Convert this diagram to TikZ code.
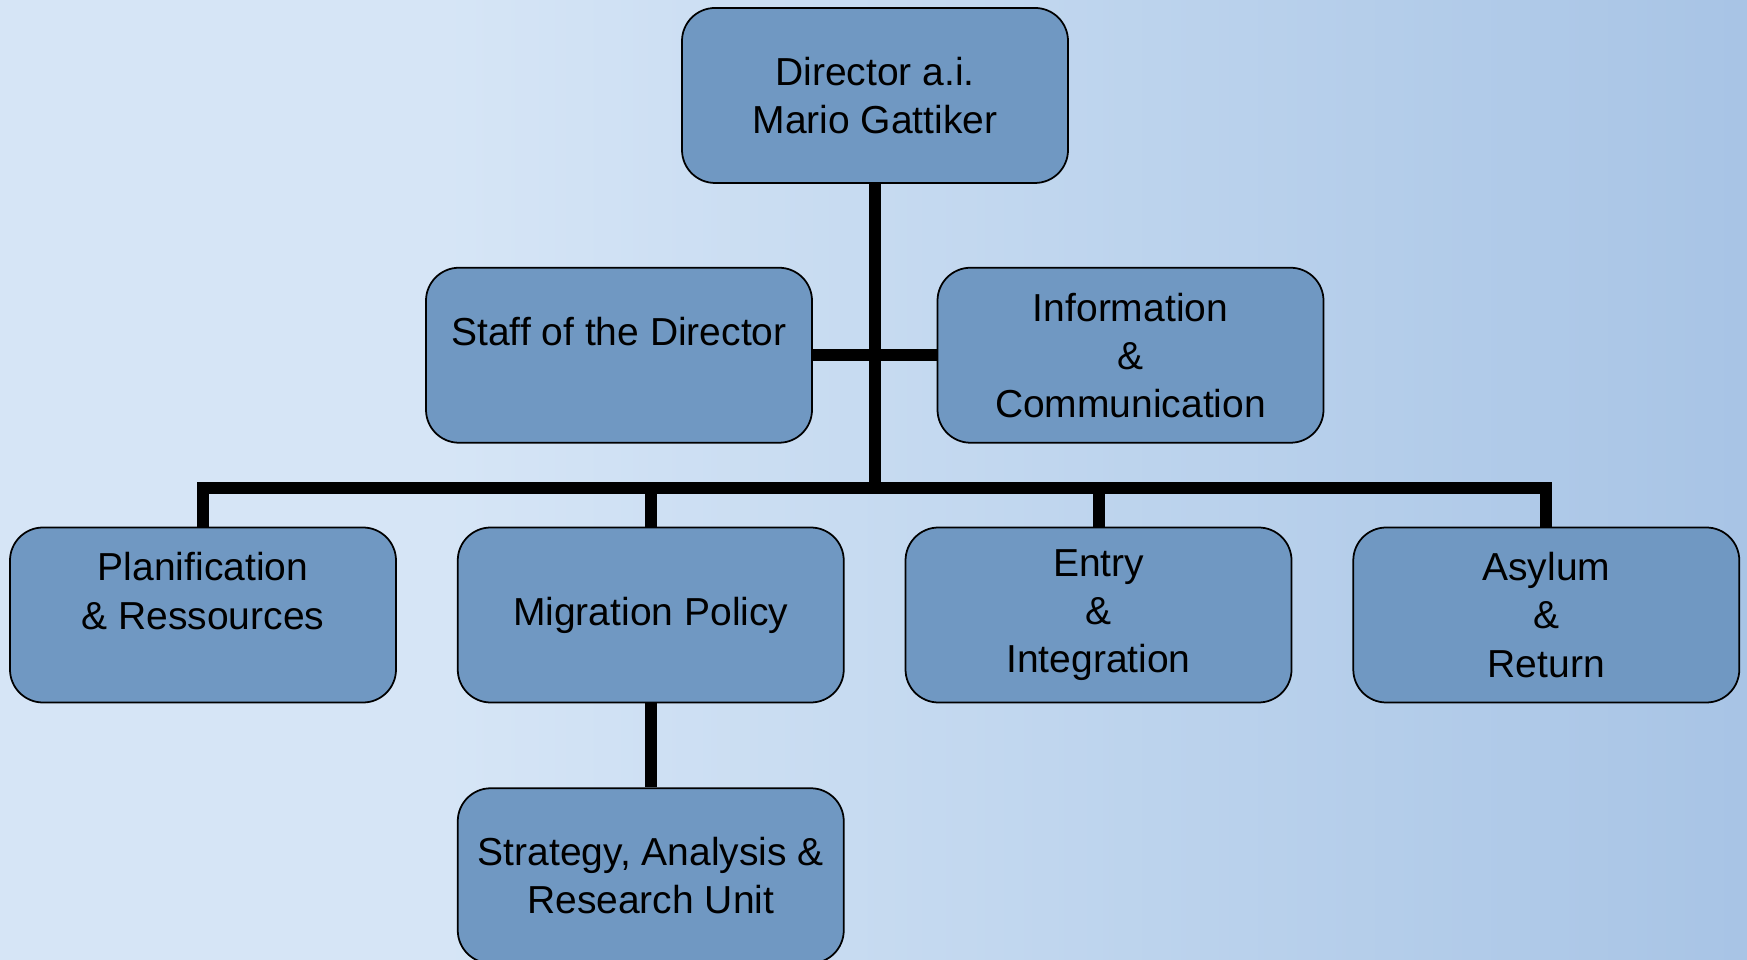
\documentclass[tikz,border=0pt]{standalone}
\usepackage{fontspec}
\setmainfont{Liberation Sans}
\usetikzlibrary{positioning}

\definecolor{unitblue}{RGB}{112,152,194}
\pgfdeclarehorizontalshading{backdrop}{100bp}{
    rgb(0bp)=(0.84,0.90,0.965); rgb(25bp)=(0.84,0.90,0.965);
    rgb(45bp)=(0.74,0.83,0.93); rgb(62bp)=(0.66,0.77,0.90);
    rgb(72bp)=(0.63,0.755,0.89); rgb(75bp)=(0.70,0.81,0.92)}

\begin{document}
\begin{tikzpicture}[x=1mm, y=1mm, node distance=8.3mm, inner sep=0pt]
    \tikzstyle{unit}=[rectangle, rounded corners=3.3mm, fill=unitblue, draw=black, line width=0.5pt,
        minimum width=38.6mm, minimum height=17.5mm, align=center, text=black,
        font=\fontsize{11.1}{13.7}\selectfont]
    \tikzstyle{link}=[-, draw=black, line width=1.2mm]

    \shade[shading=backdrop] (0,0) rectangle (174.7,96);
    \useasboundingbox (0,0) rectangle (174.7,96);

    \node[unit] (D) at (87.5,86.45) {Director a.i.\\Mario Gattiker};
    \node[unit] (S) [below=of D, xshift=-25.6mm] {Staff of the Director\\~};
    \node[unit] (IC) [below=of D, xshift=25.55mm] {Information\\\&\\Communication};
    \node[unit] (PR) [below=of S, xshift=-41.6mm] {Planification\\\& Ressources\\~};
    \node[unit] (MP) [right=6.0mm of PR] {Migration Policy};
    \node[unit] (EI) [right=6.0mm of MP] {Entry\\\&\\Integration};
    \node[unit] (AR) [right=6.0mm of EI] {Asylum\\\&\\Return};
    \node[unit] (SA) [below=8.4mm of MP] {Strategy, Analysis \&\\Research Unit};

    % bus line above the units
    \path (PR.north) ++(0,3.9) coordinate (bus);

    \draw[link] (D.south) to (D.south |- bus);
    \draw[link] (S.east) to (IC.west);
    \draw[link] (PR.north) -- (bus) -- (AR.north |- bus) -- (AR.north);
    \draw[link] (MP.north |- bus) to (MP.north);
    \draw[link] (EI.north |- bus) to (EI.north);
    \draw[link] (MP.south) to (SA.north);
\end{tikzpicture}
\end{document}
